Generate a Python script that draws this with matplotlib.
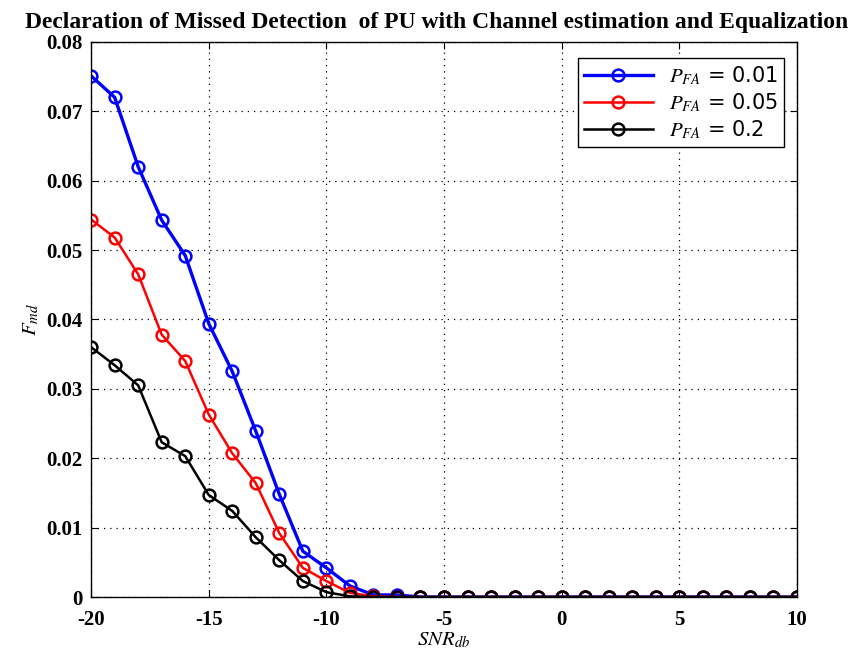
import matplotlib
matplotlib.use("Agg")
import matplotlib.pyplot as plt
import numpy as np

# SNR in dB
snr_db = list(range(-20, 11))

# missed detection probability
pmd_001 = [0.0751, 0.0720, 0.0620, 0.0543, 0.0492, 0.0394, 0.0325, 0.0239, 0.0148,
           0.0066, 0.0042, 0.0016, 0.0003, 0.0003] + [0.0] * 17
pmd_005 = [0.0544, 0.0518, 0.0465, 0.0378, 0.0340, 0.0263, 0.0207, 0.0164, 0.0092,
           0.0042, 0.0023, 0.0006, 0.0001] + [0.0] * 18
pmd_02 = [0.0360, 0.0334, 0.0305, 0.0223, 0.0203, 0.0147, 0.0124, 0.0086, 0.0053,
          0.0023, 0.0007, 0.0001] + [0.0] * 19

labels = [r"$P_{FA}$ = 0.01", r"$P_{FA}$ = 0.05", r"$P_{FA}$ = 0.2"]
colors = ["#0000ff", "#ff0000", "#000000"]

plt.rcParams["font.family"] = "Liberation Serif"
plt.rcParams["mathtext.fontset"] = "stix"
plt.rcParams["axes.unicode_minus"] = False

fig = plt.figure(figsize=(8.68, 6.57), dpi=100)
ax = fig.add_axes([0.105, 0.0913, 0.813, 0.845])

for y, lab, c, lw in zip([pmd_001, pmd_005, pmd_02], labels, colors, [2.4, 1.8, 1.8]):
    ax.plot(snr_db, y, color=c, lw=lw, marker="o", ms=8.5, mfc="none", mew=1.8, label=lab)

ax.set_xlim(-20, 10)
ax.set_ylim(0, 0.08)
ax.set_xticks(np.arange(-20, 11, 5))
ax.set_yticks(np.arange(0, 0.081, 0.01))
ax.set_yticklabels(["0"] + [f"{v:.2f}" for v in np.arange(0.01, 0.081, 0.01)])
ax.tick_params(direction="in", top=True, right=True, labelsize=15, length=5)
ax.tick_params(axis="x", pad=9)
ax.tick_params(axis="y", pad=6)
for t in ax.get_xticklabels() + ax.get_yticklabels():
    t.set_fontweight("bold")
ax.grid(True, ls=(0, (1, 4)), color="black", lw=0.9)
for s in ax.spines.values():
    s.set_linewidth(1.0)

ax.set_xlabel(r"$SNR_{db}$", fontsize=15, labelpad=1)
ax.set_ylabel(r"$F_{md}$", fontsize=15, labelpad=4)
ax.set_title("Declaration of Missed Detection  of PU with Channel estimation and Equalization",
             fontsize=17, fontweight="bold", pad=10, x=0.49)

leg = ax.legend(loc="upper right", bbox_to_anchor=(0.997, 0.99), fancybox=False, framealpha=1,
                edgecolor="black", handlelength=3.3, borderpad=0.3,
                labelspacing=0.2, prop={"family": "DejaVu Sans", "size": 15})
leg.get_frame().set_linewidth(1.0)

fig.savefig("out.png", dpi=100, facecolor="white")
